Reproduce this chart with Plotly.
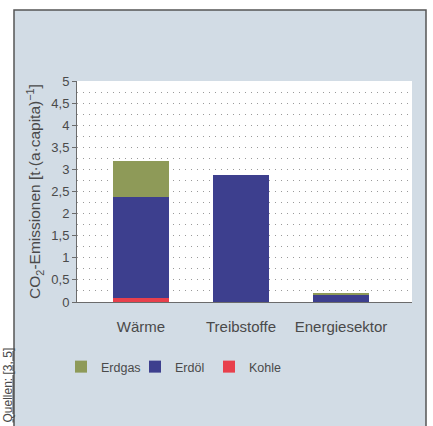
import plotly.graph_objects as go

categories = ["Wärme", "Treibstoffe", "Energiesektor"]
kohle = [0.10, 0.0, 0.0]
erdoel = [2.28, 2.88, 0.16]
erdgas = [0.80, 0.0, 0.05]
y_ticks = [0, 0.5, 1, 1.5, 2, 2.5, 3, 3.5, 4, 4.5, 5]

FONT = "Liberation Sans, Arial, sans-serif"
TXT = "#4a4a4a"

x_pos = [0, 1, 2]

fig = go.Figure()
fig.add_bar(x=x_pos, y=kohle, name="Kohle", marker=dict(color="#e8404c", line=dict(width=0)), width=0.56)
fig.add_bar(x=x_pos, y=erdoel, name="Erdöl", marker=dict(color="#3d3f8e", line=dict(width=0)), width=0.56)
fig.add_bar(x=x_pos, y=erdgas, name="Erdgas", marker=dict(color="#8e9a58", line=dict(width=0)), width=0.56)

W, H = 433, 426
L, R, T, B = 77, 21, 81, 124
pw, ph = W - L - R, H - T - B

def px_x(x):
    return (x - L) / pw

def px_y(y):
    return (H - B - y) / ph

# outer light-blue frame
fig.add_shape(type="rect", xref="paper", yref="paper",
              x0=px_x(14), x1=px_x(426), y0=px_y(440), y1=px_y(10),
              fillcolor="#d2dce5", line=dict(color="#555555", width=1.5), layer="below")
# white plot area
fig.add_shape(type="rect", xref="paper", yref="paper",
              x0=0, x1=1, y0=0, y1=1,
              fillcolor="white", line=dict(width=0), layer="below")

fig.add_annotation(text="<u>Quellen: [3, 5]</u>", xref="paper", yref="paper",
                   x=px_x(7), y=px_y(425), xanchor="center", yanchor="bottom",
                   textangle=-90, showarrow=False,
                   font=dict(family=FONT, size=12, color=TXT))

fig.update_layout(
    width=W, height=H,
    margin=dict(l=L, r=R, t=T, b=B, autoexpand=False),
    paper_bgcolor="white",
    plot_bgcolor="white",
    barmode="stack",
    separators=",.",
    font=dict(family=FONT, color=TXT),
    legend=dict(orientation="h", x=px_x(61), y=px_y(352), xanchor="left", yanchor="top",
                traceorder="reversed", font=dict(size=12.5, color=TXT),
                bgcolor="rgba(0,0,0,0)", itemwidth=30,
                entrywidth=29, entrywidthmode="pixels"),
    showlegend=True,
)

fig.update_xaxes(
    range=[-0.64, 2.71], tickvals=x_pos, ticktext=categories,
    showgrid=False, zeroline=False, showline=True, linecolor="#6b6b6b", linewidth=1.2,
    ticks="", tickfont=dict(size=15, color=TXT), ticklabelstandoff=11,
)

fig.update_yaxes(
    range=[0, 5.0], tickvals=y_ticks, ticks="outside", ticklen=4, tickcolor="#6b6b6b",
    showline=True, linecolor="#6b6b6b", linewidth=1,
    zeroline=False,
    showgrid=True, gridcolor="#9a9a9a", gridwidth=1, griddash="1px,5px",
    minor=dict(dtick=0.25, showgrid=True, gridcolor="#9a9a9a", gridwidth=1, griddash="1px,5px", ticks=""),
    tickfont=dict(size=13, color=TXT),
    title=dict(text="CO<sub>2</sub>-Emissionen [t·(a·capita)<sup>−1</sup>]",
               font=dict(size=15.5, color=TXT), standoff=6),
)

fig.write_html("out.html", config={"displayModeBar": False},
               post_script="document.body.style.margin='0';")
